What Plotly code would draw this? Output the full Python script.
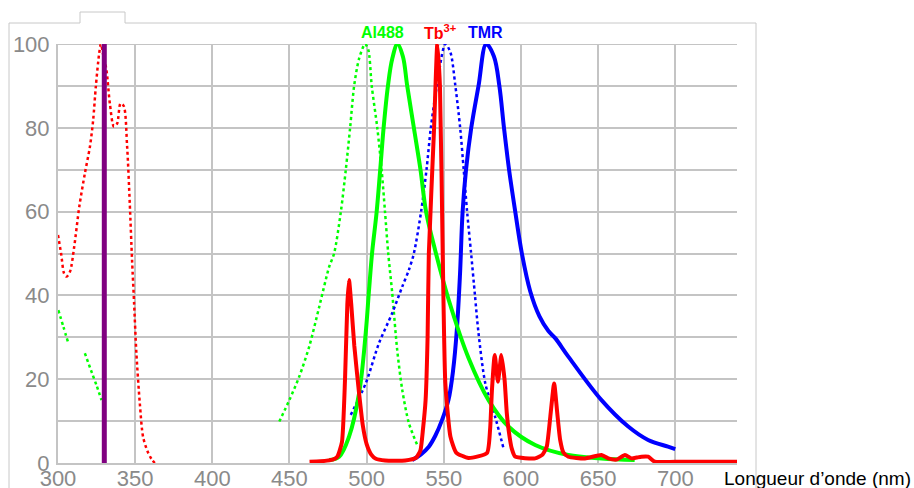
import plotly.graph_objects as go

# ---------------- data ----------------
# Tb3+ excitation (red dotted)
tb_ex_wl = [300, 302, 303.9, 305.5, 307.8, 310.5, 313.8, 317.4, 320.7, 322.8, 324.5, 326.7, 327.8,
            329.5, 331.4, 333.6, 336.2, 338.3, 340.5, 342.6, 344.8, 346.5, 348, 349.3, 350.8,
            353, 355.1, 358, 360.5, 362.7]
tb_ex = [54.4, 50, 45.3, 44.5, 45.7, 51.6, 61.2, 69.1, 75.5, 81.9, 89.8, 97.8, 100,
         97, 93.8, 85.8, 80.3, 81, 85.8, 85.2, 75.5, 62, 48.4, 38.2, 26.2,
         14.3, 6.3, 2.8, 1, 0]

# Tb3+ emission (red solid)
tb_em_wl = [463, 470, 478, 481, 484, 486, 487.5, 488.6, 490, 492, 495, 497.5, 500, 503, 506,
            512, 525, 532, 534.9, 536.5, 538.2, 539.5, 540.3, 543.6, 545.8, 547.5, 549.3, 551,
            554.3, 558, 566, 578, 580, 581.2, 583, 585.1, 587.3, 589.4, 590.8, 592, 594, 596.3,
            609.2, 614, 616.7, 619, 621.5, 623.5, 625.4, 627.5, 630.7, 641.5, 652.2, 656.6, 662,
            667.4, 671.7, 675, 678.1, 682.4, 686.7, 700, 740]
tb_em = [0.3, 0.4, 0.8, 1.5, 5, 20, 38, 43.7, 38, 28, 17, 9, 4.5, 2, 1,
         0.6, 0.6, 1.2, 3.1, 8, 15, 30, 50, 79, 100, 90, 50, 19,
         6.3, 2.5, 1.2, 2.4, 8, 17.4, 25.8, 19.4, 25.8, 19.8, 12, 7.9, 3.5, 1.5,
         1.1, 2, 3.9, 11, 19, 12, 5.5, 2.5, 1.5, 1.1, 1.9, 1.1, 0.8,
         1.9, 1.1, 1.3, 1.5, 1.5, 0.3, 0.3, 0.3]

# Al488 excitation (green dotted), with gaps
al_ex_wl = [300.2, 303.5, 306.7, None, 317.4, 322, 325, 328.2, None,
            443.4, 449.9, 456.3, 462.8, 469.3, 475.7, 478.9, 483.3, 486.5, 489.3, 491.9, 495.1,
            499, 501.1, 503.3, 506.9, 509.7, 511.9, 514, 516.6, 519.8, 523.1, 527.4, 532.8]
al_ex = [36.5, 32.5, 28.6, None, 26.2, 21.5, 18.5, 15, None,
         9.9, 15, 20.6, 27.8, 37.3, 46.8, 50, 60, 70, 80, 90, 96.5,
         100, 98.6, 90, 80, 70, 60, 50, 40.5, 27, 17.4, 9.5, 4.3]

# Al488 emission (green solid)
al_em_wl = [475.7, 482.2, 488.6, 495.1, 499.4, 501.5, 503.5, 506.5, 508.8, 511, 513.8, 516.6,
            520, 523.5, 526.3, 530.6, 534.9, 538.5, 544.6, 553.2, 566.1, 579, 591.9, 609.2,
            630.7, 652.2, 673.7]
al_em = [0.7, 1.5, 6.3, 16.6, 31, 41, 50, 60, 70, 80, 90, 96.5,
         100, 97, 90, 80, 70, 60, 50.5, 38.9, 25, 15, 8.7, 4.3,
         1.9, 1.1, 0.7]

# TMR excitation (blue dotted)
tmr_ex_wl = [489.7, 499.4, 508, 516.6, 523.1, 527.4, 530.6, 535.3, 538.8, 541.6, 545.5, 551,
             554.3, 557.5, 560.6, 562.9, 565.1, 567.7, 570.2, 572.5, 576.9, 583.3, 588.7]
tmr_ex = [11.5, 19, 28.6, 35.8, 42.1, 46.1, 50, 60, 70, 80, 90, 100,
          98, 90, 80, 70, 60, 50, 40, 31, 19, 11, 3.5]

# TMR emission (blue solid)
tmr_em_wl = [529.5, 535, 540.3, 544.5, 548.9, 553, 556, 558.5, 560.5, 562.2, 564.4, 567.8,
             572.5, 577.5, 582.5, 586, 589, 592.3, 596.3, 600.6, 606, 612, 617.8,
             622.2, 630.7, 652.2, 669.5, 682.4, 695.3, 700]
tmr_em = [0.7, 2, 3.9, 6.5, 10.3, 15, 22, 32, 45, 60, 70, 80,
          90, 100, 97, 90, 80, 70, 60, 50, 41, 35, 31.5,
          29.8, 25.4, 15, 8.7, 5.5, 3.9, 3.3]

# Excitation line (purple)
laser_wl = [330, 330]
laser_val = [0, 100]

x_ticks = [300, 350, 400, 450, 500, 550, 600, 650, 700]
y_ticks = [0, 20, 40, 60, 80, 100]

# ---------------- figure ----------------
W, H = 914, 488
L, R, T, B = 58, 737, 44, 463


def px(xp):
    return (xp - L) / (R - L)


def py(yp):
    return (B - yp) / (B - T)


fig = go.Figure()
SM = 0.8
fig.add_trace(go.Scatter(x=al_ex_wl, y=al_ex, mode="lines", connectgaps=False,
                         line=dict(color="#00ff00", width=2.5, dash="dot", shape="spline", smoothing=SM)))
fig.add_trace(go.Scatter(x=tb_ex_wl, y=tb_ex, mode="lines",
                         line=dict(color="#ff0000", width=2.5, dash="dot", shape="spline", smoothing=SM)))
fig.add_trace(go.Scatter(x=tmr_ex_wl, y=tmr_ex, mode="lines",
                         line=dict(color="#0000ff", width=2.5, dash="dot", shape="spline", smoothing=SM)))
fig.add_trace(go.Scatter(x=tmr_em_wl, y=tmr_em, mode="lines",
                         line=dict(color="#0000ff", width=4, shape="spline", smoothing=1.0)))
fig.add_trace(go.Scatter(x=al_em_wl, y=al_em, mode="lines",
                         line=dict(color="#00ff00", width=4, shape="spline", smoothing=1.0)))
fig.add_trace(go.Scatter(x=tb_em_wl, y=tb_em, mode="lines",
                         line=dict(color="#ff0000", width=4, shape="spline", smoothing=0.5)))
fig.add_trace(go.Scatter(x=laser_wl, y=laser_val, mode="lines",
                         line=dict(color="#800080", width=5)))

grid = "#c4c4c4"
fig.update_layout(
    width=W, height=H,
    margin=dict(l=L, r=W - R, t=T, b=H - B, autoexpand=False),
    paper_bgcolor="white", plot_bgcolor="white",
    showlegend=False,
    font=dict(family="Liberation Sans, Arial, sans-serif"),
    xaxis=dict(range=[300, 740], tickmode="array", tickvals=x_ticks, automargin=False,
               showgrid=True, gridcolor=grid, gridwidth=2, zeroline=False,
               showline=True, linecolor=grid, linewidth=2,
               ticks="", ticklabelstandoff=-5, tickfont=dict(size=22, color="#8a8a8a")),
    yaxis=dict(range=[0, 100], tickmode="array", tickvals=y_ticks, automargin=False,
               showgrid=True, gridcolor=grid, gridwidth=2, zeroline=False,
               showline=True, linecolor=grid, linewidth=2, mirror=False,
               ticks="", ticklabelstandoff=2, tickfont=dict(size=22, color="#8a8a8a"),
               minor=dict(dtick=10, tick0=0, showgrid=True, gridcolor=grid, gridwidth=2)),
)

# outer frame with tab
fx0, fx1, tx0, tx1 = px(9), px(756), px(80), px(125)
fy_top, fy_tab, fy_bot = py(23), py(12), py(520)
fig.add_shape(type="path", xref="paper", yref="paper", layer="below",
              path=f"M {fx0},{fy_bot} L {fx0},{fy_top} L {tx0},{fy_top} L {tx0},{fy_tab} "
                   f"L {tx1},{fy_tab} L {tx1},{fy_top} L {fx1},{fy_top} L {fx1},{fy_bot}",
              line=dict(color="#c8c8c8", width=1))

# top line at 100
fig.add_shape(type="line", xref="paper", yref="y", x0=0, x1=1, y0=100, y1=100,
              layer="below", line=dict(color=grid, width=2))

lab_y = py(32)
common = dict(xref="paper", yref="paper", showarrow=False, xanchor="center", yanchor="middle")
fig.add_annotation(x=px(382), y=lab_y, text="<b>Al488</b>",
                   font=dict(size=16, color="#00ff00"), **common)
fig.add_annotation(x=px(440), y=lab_y, text="<b>Tb<sup>3+</sup></b>",
                   font=dict(size=16, color="#ff0000"), **common)
fig.add_annotation(x=px(485), y=lab_y, text="<b>TMR</b>",
                   font=dict(size=16, color="#0000ff"), **common)

fig.add_annotation(x=px(817), y=py(478), text="Longueur d’onde (nm)",
                   font=dict(size=19, color="#000000"), **common)

fig.write_html("out.html")
